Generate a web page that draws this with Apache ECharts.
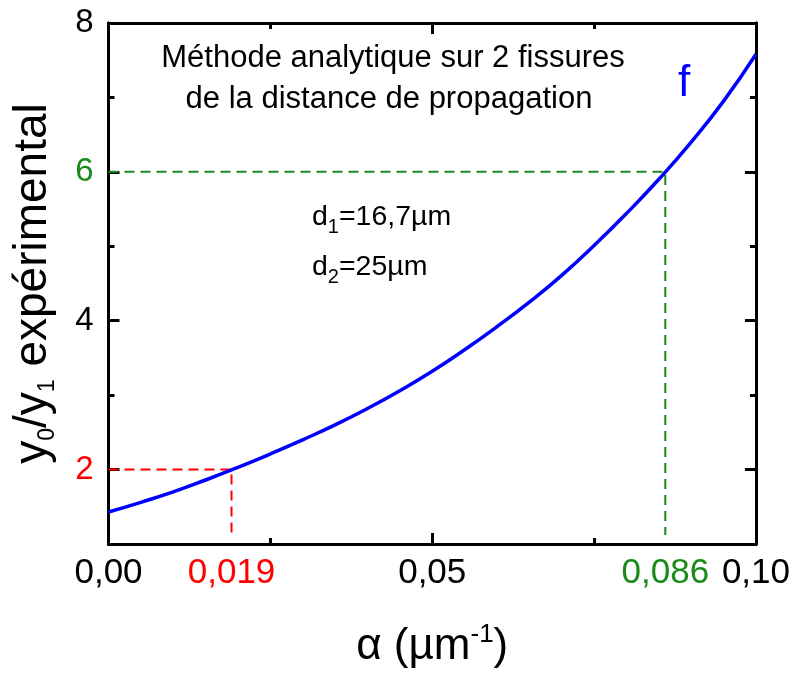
<!DOCTYPE html>
<html>
<head>
<meta charset="utf-8">
<title>Méthode analytique</title>
<script src="https://cdn.jsdelivr.net/npm/echarts@6/dist/echarts.min.js"></script>
<style>
    html, body { margin: 0; padding: 0; background: #fff; }
    #chart { width: 793px; height: 674px; }
</style>
</head>
<body>
<div id="chart"></div>
<script>
// curve f, one point every 0,005
var alphaValues = [0, 0.005, 0.01, 0.015, 0.02, 0.025, 0.03, 0.035, 0.04, 0.045, 0.05,
    0.055, 0.06, 0.065, 0.07, 0.075, 0.08, 0.085, 0.09, 0.095, 0.1];
var ratioValues = [1.43, 1.56, 1.70, 1.86, 2.03, 2.21, 2.40, 2.60, 2.82, 3.06, 3.32,
    3.61, 3.92, 4.25, 4.61, 5.01, 5.44, 5.90, 6.40, 6.95, 7.58];

// dashed guides: [x, y] of the read point, ending just above the bottom axis
var redGuide = [0.019, 2];
var greenGuide = [0.086, 6];
var guideFloor = 1.12;

// tick labels
var xLabelValues = [0, 0.019, 0.05, 0.086, 0.1];
var xLabelTexts = ['0,00', '0,019', '0,05', '0,086', '0,10'];
var yLabelValues = [2, 4, 6, 8];
var yMinorValues = [3, 5, 7];

var RED = '#ff0000';
var GREEN = '#1a8a1a';
var BLUE = '#0000ff';
var FONT = 'Liberation Sans, Arial, sans-serif';

var curveData = alphaValues.map(function (a, i) { return [a, ratioValues[i]]; });
function guideData(p) {
    return [[0, p[1]], [p[0], p[1]], [p[0], guideFloor]];
}

function colorOf(v) {
    if (v === redGuide[0] || v === redGuide[1]) return 'r';
    if (v === greenGuide[0] || v === greenGuide[1]) return 'g';
    return 'k';
}
function labelRich(size) {
    return {
        k: { color: '#000', fontSize: size, fontFamily: FONT },
        r: { color: RED, fontSize: size, fontFamily: FONT },
        g: { color: GREEN, fontSize: size, fontFamily: FONT }
    };
}

function yAxisBase(pos, ticks, len, withLabels) {
    return {
        type: 'value',
        position: pos,
        min: 1,
        max: 8,
        axisLine: { show: true, onZero: false, lineStyle: { color: '#000', width: 3 } },
        axisTick: { show: true, inside: true, length: len, customValues: ticks, lineStyle: { color: '#000', width: 3 } },
        axisLabel: withLabels ? {
            show: true,
            customValues: yLabelValues,
            margin: 15,
            formatter: function (v) { return '{' + colorOf(v) + '|' + v + '}'; },
            rich: labelRich(33)
        } : { show: false },
        splitLine: { show: false }
    };
}

function xAxisBase(pos, withLabels) {
    return {
        type: 'value',
        position: pos,
        min: 0,
        max: 0.1,
        interval: 0.05,
        axisLine: { show: true, onZero: false, lineStyle: { color: '#000', width: 3 } },
        axisTick: { show: true, inside: true, length: 11, lineStyle: { color: '#000', width: 3 } },
        minorTick: { show: true, splitNumber: 2, length: 6, lineStyle: { color: '#000', width: 3 } },
        axisLabel: withLabels ? {
            show: true,
            customValues: xLabelValues,
            margin: 12,
            formatter: function (v) {
                var i = xLabelValues.indexOf(v);
                return '{' + colorOf(v) + '|' + (i >= 0 ? xLabelTexts[i] : v) + '}';
            },
            rich: labelRich(35)
        } : { show: false },
        splitLine: { show: false },
        minorSplitLine: { show: false }
    };
}

var xMain = xAxisBase('bottom', true);
xMain.name = '{n|α (µm}{sup|-1}{n|)}';
xMain.nameLocation = 'middle';
xMain.nameGap = 78;
xMain.nameTextStyle = {
    rich: {
        n: { fontSize: 44, fontFamily: FONT, color: '#000', lineHeight: 50 },
        sup: { fontSize: 26, fontFamily: FONT, color: '#000', lineHeight: 26, verticalAlign: 'top' }
    }
};

var yMain = yAxisBase('left', yLabelValues, 11, true);
yMain.name = '{n|y}{sub|0}{n|/y}{sub|1}{n| expérimental}';
yMain.nameLocation = 'middle';
yMain.nameRotate = 90;
yMain.nameGap = 50;
yMain.nameTextStyle = {
    rich: {
        n: { fontSize: 46, fontFamily: FONT, color: '#000', lineHeight: 50 },
        sub: { fontSize: 23, fontFamily: FONT, color: '#000', lineHeight: 20, padding: [28, 0, 0, 0] }
    }
};

var dRich = {
    n: { fontSize: 28.5, fontFamily: FONT, fill: '#000', lineHeight: 30 },
    sub: { fontSize: 20, fontFamily: FONT, fill: '#000', lineHeight: 14, padding: [21, 0, 0, 0] }
};

var chart = echarts.init(document.getElementById('chart'));
chart.setOption({
    backgroundColor: '#fff',
    animation: false,
    grid: { left: 107, right: 37, top: 23, bottom: 126 },
    xAxis: [xMain, xAxisBase('top', false)],
    yAxis: [
        yMain,
        yAxisBase('left', yMinorValues, 6, false),
        yAxisBase('right', yLabelValues, 11, false),
        yAxisBase('right', yMinorValues, 6, false)
    ],
    series: [
        {
            name: 'rouge',
            type: 'line',
            data: guideData(redGuide),
            showSymbol: false,
            lineStyle: { color: RED, width: 2, type: [10, 6] },
            z: 1
        },
        {
            name: 'vert',
            type: 'line',
            data: guideData(greenGuide),
            showSymbol: false,
            lineStyle: { color: GREEN, width: 2, type: [10, 6] },
            z: 1
        },
        {
            name: 'f',
            type: 'line',
            data: curveData,
            smooth: true,
            showSymbol: false,
            lineStyle: { color: BLUE, width: 3.5 },
            z: 2
        }
    ],
    graphic: [
        {
            type: 'text', x: 393, y: 58,
            style: { text: 'Méthode analytique sur 2 fissures', fontSize: 31, fontFamily: FONT, fill: '#000', align: 'center', verticalAlign: 'middle' }
        },
        {
            type: 'text', x: 389, y: 99,
            style: { text: 'de la distance de propagation', fontSize: 31, fontFamily: FONT, fill: '#000', align: 'center', verticalAlign: 'middle' }
        },
        {
            type: 'text', x: 684, y: 84,
            style: { text: 'f', fontSize: 44, fontFamily: FONT, fill: BLUE, align: 'center', verticalAlign: 'middle' }
        },
        {
            type: 'text', x: 312, y: 217,
            style: { text: '{n|d}{sub|1}{n|=16,7µm}', rich: dRich, verticalAlign: 'middle' }
        },
        {
            type: 'text', x: 312, y: 267,
            style: { text: '{n|d}{sub|2}{n|=25µm}', rich: dRich, verticalAlign: 'middle' }
        }
    ]
});
</script>
</body>
</html>
